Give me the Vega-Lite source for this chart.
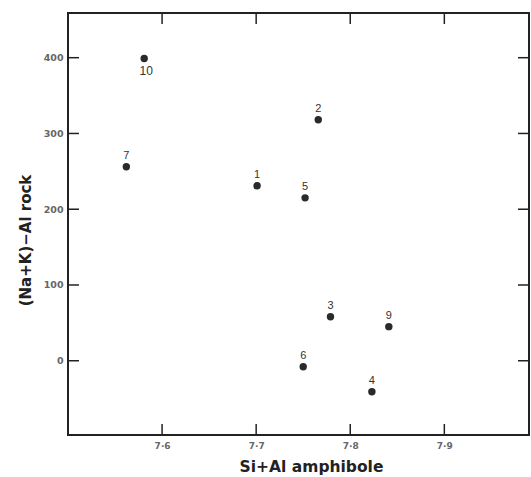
{
  "$schema": "https://vega.github.io/schema/vega-lite/v6.json",
  "width": 461,
  "height": 422,
  "autosize": "none",
  "padding": {"left": 68, "top": 13, "right": 2, "bottom": 42},
  "background": "white",
  "config": {
    "view": {"stroke": "#222", "strokeWidth": 2},
    "font": "DejaVu Sans"
  },
  "datasets": {
    "samples": [
      {"si_al": 7.581, "nak_al": 399, "sample": "10"},
      {"si_al": 7.562, "nak_al": 256, "sample": "7"},
      {"si_al": 7.701, "nak_al": 231, "sample": "1"},
      {"si_al": 7.766, "nak_al": 318, "sample": "2"},
      {"si_al": 7.752, "nak_al": 215, "sample": "5"},
      {"si_al": 7.779, "nak_al": 58, "sample": "3"},
      {"si_al": 7.841, "nak_al": 45, "sample": "9"},
      {"si_al": 7.75, "nak_al": -8, "sample": "6"},
      {"si_al": 7.823, "nak_al": -41, "sample": "4"}
    ],
    "xticks": [{"tx": 7.6}, {"tx": 7.7}, {"tx": 7.8}, {"tx": 7.9}],
    "yticks": [{"ty": 0}, {"ty": 100}, {"ty": 200}, {"ty": 300}, {"ty": 400}]
  },
  "layer": [
    {
      "data": {"name": "samples"},
      "encoding": {
        "x": {
          "field": "si_al", "type": "quantitative",
          "scale": {"domain": [7.5, 7.99], "nice": false, "zero": false},
          "axis": {
            "values": [7.6, 7.7, 7.8, 7.9],
            "labelExpr": "replace(format(datum.value, '.1f'), '.', '·')",
            "title": "Si+Al amphibole",
            "titleFont": "DejaVu Sans", "titleFontSize": 15.5, "titleFontWeight": "bold", "titleColor": "#222",
            "titlePadding": 9, "titleX": 243,
            "labelFont": "DejaVu Sans", "labelFontSize": 9, "labelFontWeight": "bold", "labelColor": "#666", "labelPadding": 6,
            "ticks": false,
            "domain": false, "grid": false
          }
        },
        "y": {
          "field": "nak_al", "type": "quantitative",
          "scale": {"domain": [-98, 459], "nice": false, "zero": false},
          "axis": {
            "values": [0, 100, 200, 300, 400],
            "title": "(Na+K)−Al rock",
            "titleFont": "DejaVu Sans", "titleFontSize": 15, "titleFontWeight": "bold", "titleColor": "#222",
            "titlePadding": 10, "titleY": 227,
            "labelFont": "DejaVu Sans", "labelFontSize": 9.5, "labelFontWeight": "bold", "labelColor": "#666", "labelPadding": 5,
            "ticks": false,
            "domain": false, "grid": false
          }
        }
      },
      "layer": [
        {
          "mark": {"type": "point", "filled": true, "shape": "circle", "size": 55, "color": "#2a2a2a", "opacity": 1}
        },
        {
          "transform": [{"filter": "datum.sample != '10'"}],
          "mark": {"type": "text", "dy": -11, "fontSize": 11, "color": "#333", "font": "Liberation Sans"},
          "encoding": {"text": {"field": "sample"}}
        },
        {
          "transform": [{"filter": "datum.sample == '10'"}],
          "mark": {"type": "text", "dy": 13, "dx": 2, "fontSize": 12, "color": "#333", "font": "Liberation Sans"},
          "encoding": {"text": {"field": "sample"}}
        }
      ]
    },
    {
      "data": {"name": "xticks"},
      "layer": [
        {
          "mark": {"type": "rule", "color": "#222", "strokeWidth": 1.5},
          "encoding": {
            "x": {"field": "tx", "type": "quantitative"},
            "y": {"value": 0},
            "y2": {"value": 11}
          }
        },
        {
          "mark": {"type": "rule", "color": "#222", "strokeWidth": 1.5},
          "encoding": {
            "x": {"field": "tx", "type": "quantitative"},
            "y": {"value": 411},
            "y2": {"value": 422}
          }
        }
      ]
    },
    {
      "data": {"name": "yticks"},
      "layer": [
        {
          "mark": {"type": "rule", "color": "#222", "strokeWidth": 1.5},
          "encoding": {
            "y": {"field": "ty", "type": "quantitative"},
            "x": {"value": 0},
            "x2": {"value": 11}
          }
        },
        {
          "mark": {"type": "rule", "color": "#222", "strokeWidth": 1.5},
          "encoding": {
            "y": {"field": "ty", "type": "quantitative"},
            "x": {"value": 450},
            "x2": {"value": 461}
          }
        }
      ]
    }
  ]
}
